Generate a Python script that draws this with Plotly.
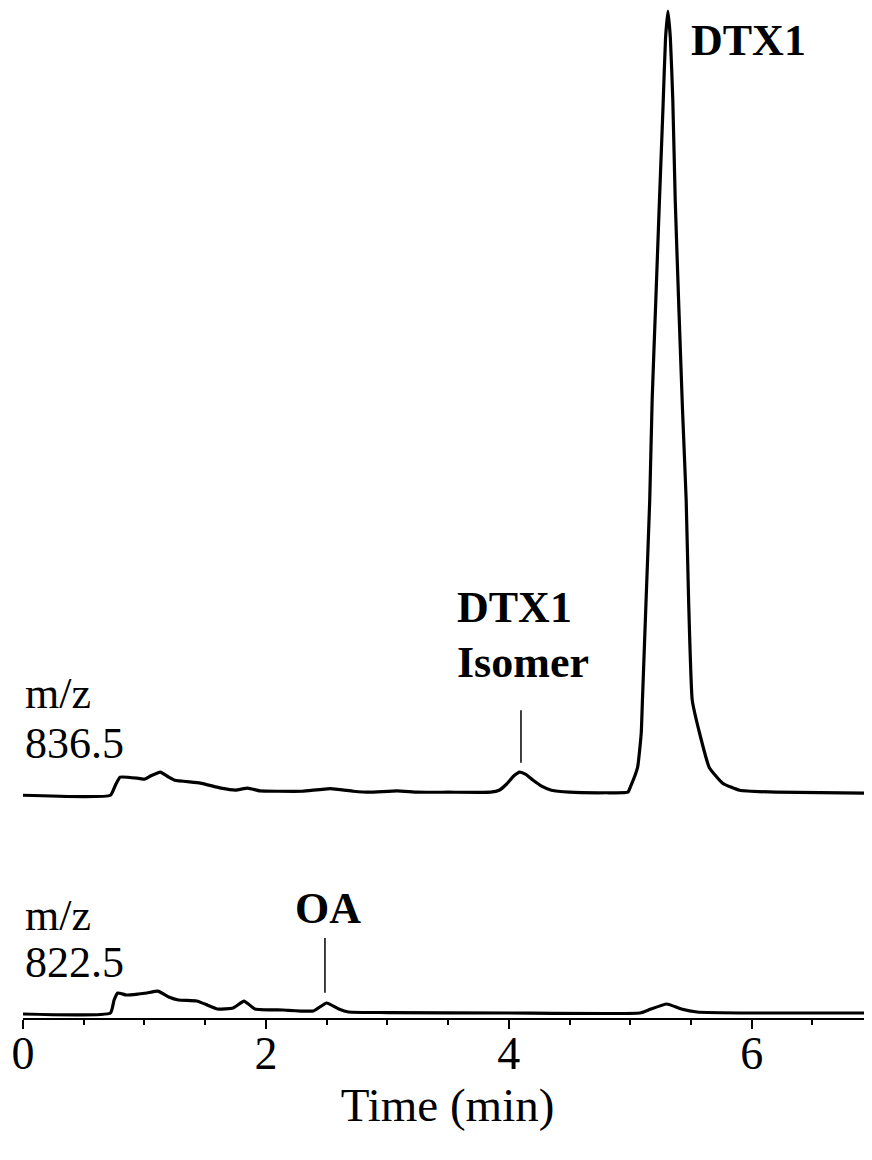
import plotly.graph_objects as go

# ---- data (time in min, relative intensity, % of DTX1 peak) ----
t_836 = [0.00, 0.72, 0.76, 0.80, 0.95, 1.00, 1.05, 1.13, 1.20, 1.25, 1.46, 1.63, 1.75, 1.85,
         1.95, 2.10, 2.30, 2.53, 2.72, 2.85, 3.08, 3.25, 3.50, 3.85, 3.92, 3.98, 4.04, 4.09,
         4.14, 4.20, 4.27, 4.35, 4.50, 4.80, 4.98, 5.00, 5.06, 5.09, 5.10, 5.13, 5.16, 5.18,
         5.21, 5.24, 5.27, 5.29, 5.31, 5.33, 5.35, 5.37, 5.40, 5.43, 5.46, 5.48, 5.51, 5.57,
         5.65, 5.76, 5.90, 6.20, 7.00]
i_836 = [-0.26, -0.26, 1.0, 2.05, 1.9, 1.8, 2.2, 2.7, 2.05, 1.65, 1.3, 0.65, 0.4, 0.65,
         0.3, 0.25, 0.25, 0.6, 0.25, 0.13, 0.3, 0.13, 0.13, 0.13, 0.38, 1.15, 2.2, 2.7,
         2.4, 1.65, 0.9, 0.38, 0.13, 0.06, 0.13, 0.77, 3.3, 7.7, 11.9, 24.7, 37.5, 50.3,
         63.0, 75.8, 88.0, 96.5, 100.0, 96.5, 88.6, 75.8, 62.0, 49.0, 37.5, 24.7, 11.9, 7.7,
         3.3, 1.28, 0.38, 0.13, 0.0]

t_822 = [0.00, 0.72, 0.75, 0.78, 0.85, 0.95, 1.02, 1.11, 1.20, 1.28, 1.43, 1.52, 1.60, 1.73,
         1.82, 1.91, 2.14, 2.39, 2.50, 2.60, 2.68, 3.00, 4.00, 5.08, 5.15, 5.30, 5.42, 5.55,
         6.00, 7.00]
i_822 = [-0.13, 0.0, 1.66, 2.56, 2.3, 2.43, 2.56, 2.8, 2.05, 1.66, 1.53, 1.0, 0.51, 0.64,
         1.53, 0.51, 0.38, 0.26, 1.28, 0.51, 0.13, 0.06, 0.0, 0.0, 0.38, 1.15, 0.51, 0.13,
         0.0, 0.0]

x_ticks = [0, 2, 4, 6]
x_title = "Time (min)"

UPPER_OFFSET = 28.1
FONT = "Liberation Serif, Times New Roman, serif"

fig = go.Figure()
fig.add_trace(go.Scatter(x=t_822, y=i_822, mode="lines",
                         line=dict(color="black", width=3.2, shape="spline", smoothing=0.4),
                         showlegend=False))
fig.add_trace(go.Scatter(x=t_836, y=[v + UPPER_OFFSET for v in i_836], mode="lines",
                         line=dict(color="black", width=3.2, shape="spline", smoothing=0.4),
                         showlegend=False))

# trace labels (left)
reg = dict(size=44, color="black", family=FONT)
fig.add_annotation(x=0.0, y=UPPER_OFFSET + 12.7, text="m/z", xanchor="left", yanchor="middle",
                   showarrow=False, font=reg)
fig.add_annotation(x=0.0, y=UPPER_OFFSET + 6.3, text="836.5", xanchor="left", yanchor="middle",
                   showarrow=False, font=reg)
fig.add_annotation(x=0.0, y=12.5, text="m/z", xanchor="left", yanchor="middle",
                   showarrow=False, font=reg)
fig.add_annotation(x=0.0, y=6.4, text="822.5", xanchor="left", yanchor="middle",
                   showarrow=False, font=reg)

# peak labels
bold = dict(size=44, color="black", family=FONT, weight="bold")
fig.add_annotation(x=5.975, y=124.3, text="<b>DTX1</b>", xanchor="center", yanchor="middle",
                   showarrow=False, font=bold)
fig.add_annotation(x=3.556, y=51.8, text="<b>DTX1</b>", xanchor="left", yanchor="middle",
                   showarrow=False, font=bold)
fig.add_annotation(x=3.556, y=44.8, text="<b>Isomer</b>", xanchor="left", yanchor="middle",
                   showarrow=False, font=bold)
fig.add_annotation(x=2.511, y=13.3, text="<b>OA</b>", xanchor="center", yanchor="middle",
                   showarrow=False, font=bold)

# marker lines
fig.add_shape(type="line", x0=4.10, x1=4.10, y0=32.0, y1=38.7, line=dict(color="black", width=1.5))
fig.add_shape(type="line", x0=2.486, x1=2.486, y0=2.6, y1=9.6, line=dict(color="black", width=1.5))

fig.update_xaxes(range=[0, 6.99], showline=True, linecolor="black", linewidth=2,
                 ticks="outside", tickvals=x_ticks, ticklen=9, tickwidth=2, tickcolor="black",
                 minor=dict(dtick=0.5, ticks="outside", ticklen=5, tickwidth=2, tickcolor="black"),
                 showgrid=False, zeroline=False, automargin=False, ticklabelstandoff=-15,
                 tickfont=dict(size=46, color="black", family=FONT),
                 title=dict(text=x_title, font=dict(size=47, color="black", family=FONT), standoff=8))
fig.update_yaxes(range=[-0.64, 128.5], visible=False, showgrid=False, zeroline=False,
                 automargin=False)

# page body adds an 8 px margin, so the figure is drawn 8 px smaller and shifted
fig.update_layout(width=864, height=1152, margin=dict(l=15, r=0, t=0, b=142),
                  plot_bgcolor="white", paper_bgcolor="white")

fig.write_html("out.html")
